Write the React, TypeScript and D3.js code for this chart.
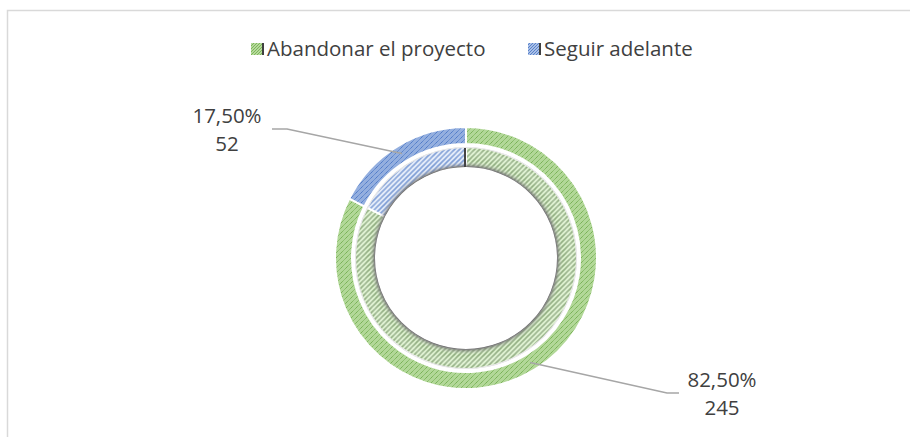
import React from "react";
import * as d3 from "d3";

const categories = ["Abandonar el proyecto", "Seguir adelante"];
const values = [245, 52];
const percentLabels = ["82,50%", "17,50%"];
const valueLabels = ["245", "52"];

const W = 910;
const H = 437;
const cx = 466;
const cy = 258;
const outerR = [131, 114];
const innerR = [111, 91];

export default function App() {
  const pie = d3.pie<number>().sort(null).startAngle(0).endAngle(2 * Math.PI)(values);
  const arcOuter = d3.arc<d3.PieArcDatum<number>>().innerRadius(outerR[1]).outerRadius(outerR[0]);
  const arcInner = d3.arc<d3.PieArcDatum<number>>().innerRadius(innerR[1]).outerRadius(innerR[0]);
  const midR = (outerR[0] + outerR[1]) / 2;
  const anchor = (d: d3.PieArcDatum<number>) => {
    const a = (d.startAngle + d.endAngle) / 2;
    return [cx + midR * Math.sin(a), cy - midR * Math.cos(a)];
  };
  const outerFill = ["url(#pGreen)", "url(#pBlue)"];
  const innerFill = ["url(#pGreenL)", "url(#pBlueL)"];
  const labelPos = [
    { x: 722, y: 387, hx1: 679, hx0: 667, hy: 393 },
    { x: 227, y: 123, hx1: 272, hx0: 287, hy: 129 },
  ];
  const font = "'Open Sans', 'Liberation Sans', sans-serif";
  const fs = 20.5;
  return (
    <svg width={W} height={H} style={{ position: "absolute", left: 0, top: 0 }}>
      <defs>
        <pattern id="pGreen" width="5" height="5" patternUnits="userSpaceOnUse">
          <rect width="5" height="5" fill="#b2d898" />
          <path d="M0,5 L5,0 M-1,1 L1,-1 M4,6 L6,4" stroke="#6eaa4a" strokeWidth="1" strokeDasharray="1.2,0.6" />
        </pattern>
        <pattern id="pBlue" width="5" height="5" patternUnits="userSpaceOnUse">
          <rect width="5" height="5" fill="#94afdf" />
          <path d="M0,5 L5,0 M-1,1 L1,-1 M4,6 L6,4" stroke="#4472c4" strokeWidth="1" strokeDasharray="1.2,0.6" />
        </pattern>
        <pattern id="pGreenL" width="5" height="5" patternUnits="userSpaceOnUse">
          <rect width="5" height="5" fill="#d6edc6" />
          <path d="M0,5 L5,0 M-1,1 L1,-1 M4,6 L6,4" stroke="#8dab7c" strokeWidth="1.6" />
        </pattern>
        <pattern id="pBlueL" width="5" height="5" patternUnits="userSpaceOnUse">
          <rect width="5" height="5" fill="#dde7f8" />
          <path d="M0,5 L5,0 M-1,1 L1,-1 M4,6 L6,4" stroke="#7899d4" strokeWidth="1.6" />
        </pattern>
        <radialGradient id="bevel" gradientUnits="userSpaceOnUse" cx={cx} cy={cy} r={innerR[0]}>
          <stop offset={innerR[1] / innerR[0]} stopColor="#555" stopOpacity="0.9" />
          <stop offset={(innerR[1] + 2) / innerR[0]} stopColor="#888" stopOpacity="0.5" />
          <stop offset={(innerR[1] + 6) / innerR[0]} stopColor="#fff" stopOpacity="0.05" />
          <stop offset={(innerR[1] + 14) / innerR[0]} stopColor="#fff" stopOpacity="0.25" />
          <stop offset={(innerR[0] - 2) / innerR[0]} stopColor="#fff" stopOpacity="0.1" />
          <stop offset="1" stopColor="#999" stopOpacity="0.4" />
        </radialGradient>
        <pattern id="lgGreen" width="3" height="3" patternUnits="userSpaceOnUse">
          <rect width="3" height="3" fill="#b5d99c" />
          <path d="M0,3 L3,0" stroke="#70ad47" strokeWidth="0.8" />
        </pattern>
        <pattern id="lgBlue" width="3" height="3" patternUnits="userSpaceOnUse">
          <rect width="3" height="3" fill="#a9bfe6" />
          <path d="M0,3 L3,0" stroke="#4472c4" strokeWidth="0.8" />
        </pattern>
      </defs>
      <rect x={7.5} y={10.5} width={W + 20} height={H + 20} fill="#fff" stroke="#d9d9d9" strokeWidth={1.5} />

      {categories.map((c, i) => {
        const ix = i === 0 ? 251 : 528;
        return (
          <g key={c}>
            <rect x={ix} y={43} width={12} height={12} fill={i === 0 ? "url(#lgGreen)" : "url(#lgBlue)"} />
            <rect x={ix + 11} y={43} width={2} height={12} fill="#404040" />
            <text x={ix + 16} y={56} fontFamily={font} fontSize={fs} fill="#404040">{c}</text>
          </g>
        );
      })}

      {pie.map((d, i) => (
        <path key={"o" + i} d={arcOuter(d) || ""} transform={`translate(${cx},${cy})`} fill={outerFill[i]} stroke="#fff" strokeWidth={2} />
      ))}
      {pie.map((d, i) => (
        <path key={"i" + i} d={arcInner(d) || ""} transform={`translate(${cx},${cy})`} fill={innerFill[i]} stroke="#fff" strokeWidth={2} />
      ))}
      <circle cx={cx} cy={cy} r={(innerR[0] + innerR[1]) / 2} fill="none" stroke="url(#bevel)" strokeWidth={innerR[0] - innerR[1]} />
      <line x1={cx - 1} y1={cy - innerR[1]} x2={cx - 1} y2={cy - innerR[0] + 1} stroke="#444" strokeWidth={2} />

      {pie.map((d, i) => {
        const [ax, ay] = anchor(d);
        const p = labelPos[i];
        return (
          <g key={"l" + i}>
            <polyline points={`${p.hx1},${p.hy} ${p.hx0},${p.hy} ${ax},${ay}`} fill="none" stroke="#a6a6a6" strokeWidth={1.5} />
            <text x={p.x} y={p.y} textAnchor="middle" fontFamily={font} fontSize={fs} fill="#404040">{percentLabels[i]}</text>
            <text x={p.x} y={p.y + 28} textAnchor="middle" fontFamily={font} fontSize={fs} fill="#404040">{valueLabels[i]}</text>
          </g>
        );
      })}
    </svg>
  );
}
